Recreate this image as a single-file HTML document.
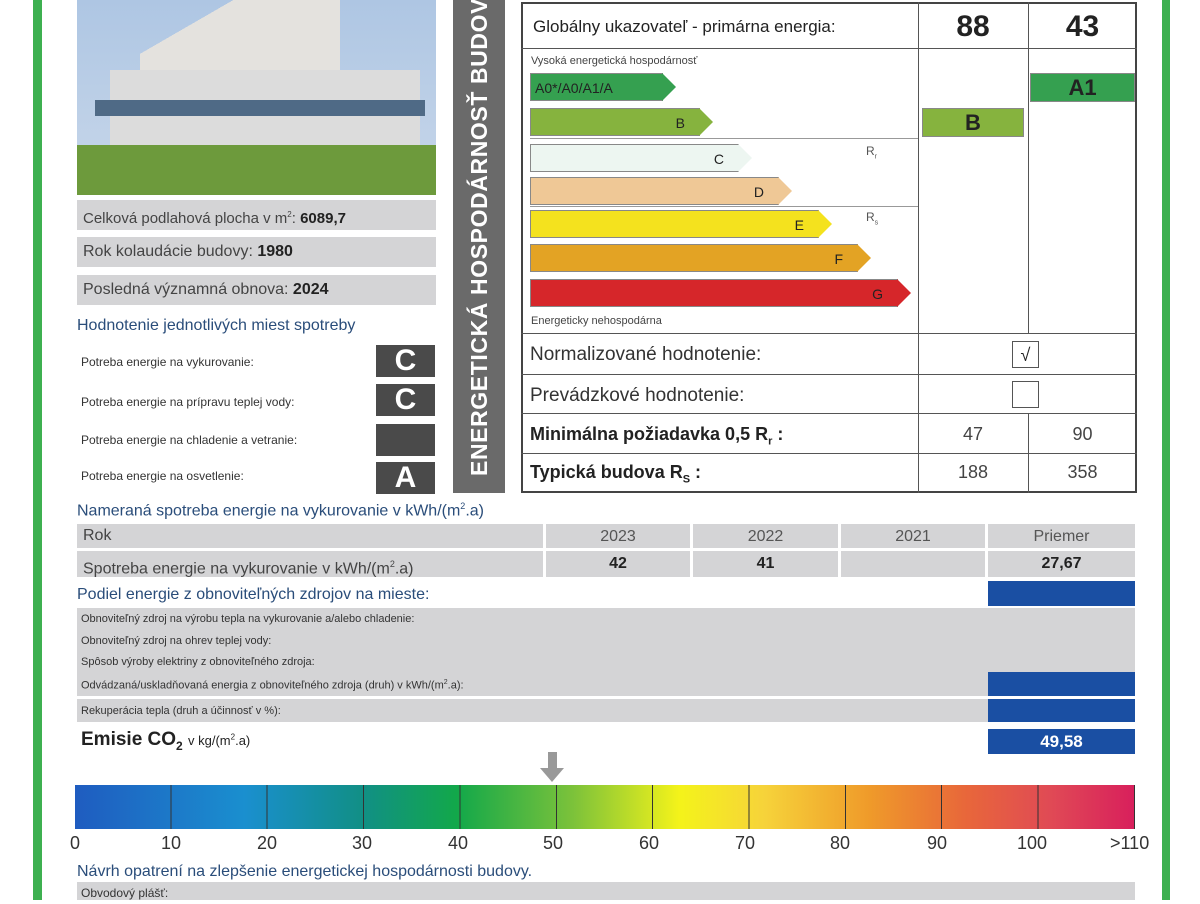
<!DOCTYPE html>
<html><head><meta charset="utf-8"><style>
*{margin:0;padding:0;box-sizing:border-box}
body{width:1200px;height:900px;background:#fff;position:relative;overflow:hidden;font-family:"Liberation Sans",sans-serif;color:#222}
.a{position:absolute}
.g{background:#d4d4d6}
.dk{background:#4a4a4a;color:#fff;font-weight:bold;font-size:30px;text-align:center;line-height:32px}
.bar{position:absolute;left:530px;height:28px;font-size:14px;line-height:28px;text-align:right;color:#222;border:1px solid #888}
.bar::after{content:"";position:absolute;right:-14px;top:-1px;border-left:14px solid var(--c);border-top:14px solid transparent;border-bottom:14px solid transparent}
.bl{background:#1a4fa3;color:#fff;font-weight:bold;text-align:center}
.hl{position:absolute;height:1px;background:#555}
.vl{position:absolute;width:1px;background:#555}
.sm{font-size:11px;color:#333}
.bh{color:#2a4d7a;font-size:15px}
</style></head><body>
<div class="a" style="left:33px;top:0;width:9px;height:900px;background:#3db050"></div>
<div class="a" style="left:1162px;top:0;width:8px;height:900px;background:#3db050"></div>

<!-- photo -->
<div class="a" style="left:77px;top:0;width:359px;height:195px;background:linear-gradient(#aec6e3 0,#c8d7ea 100%)"></div>
<div class="a" style="left:140px;top:0;width:200px;height:100px;background:linear-gradient(150deg,transparent 25%,#e4e2de 25%)"></div>
<div class="a" style="left:110px;top:70px;width:310px;height:75px;background:#dcdcdc"></div>
<div class="a" style="left:95px;top:100px;width:330px;height:16px;background:#4f6a86"></div>
<div class="a" style="left:77px;top:145px;width:359px;height:50px;background:#6d9a3c"></div>

<div class="a g" style="left:77px;top:200px;width:359px;height:30px;font-size:15px;line-height:30px;padding-left:6px;color:#444">Celková podlahová plocha v m<sup style="font-size:8px">2</sup>: <b style="color:#222">6089,7</b></div>
<div class="a g" style="left:77px;top:237px;width:359px;height:30px;font-size:16px;line-height:30px;padding-left:6px;color:#444">Rok kolaudácie budovy: <b style="color:#222">1980</b></div>
<div class="a g" style="left:77px;top:275px;width:359px;height:30px;font-size:16px;line-height:30px;padding-left:6px;color:#444">Posledná významná obnova: <b style="color:#222">2024</b></div>
<div class="a bh" style="left:77px;top:317px;font-size:16px">Hodnotenie jednotlivých miest spotreby</div>
<div class="a sm" style="left:81px;top:355px;font-size:12px">Potreba energie na vykurovanie:</div>
<div class="a sm" style="left:81px;top:395px;font-size:12px">Potreba energie na prípravu teplej vody:</div>
<div class="a sm" style="left:81px;top:433px;font-size:12px">Potreba energie na chladenie a vetranie:</div>
<div class="a sm" style="left:81px;top:469px;font-size:12px">Potreba energie na osvetlenie:</div>
<div class="a dk" style="left:376px;top:345px;width:59px;height:32px">C</div>
<div class="a dk" style="left:376px;top:384px;width:59px;height:32px">C</div>
<div class="a dk" style="left:376px;top:424px;width:59px;height:32px"></div>
<div class="a dk" style="left:376px;top:462px;width:59px;height:32px">A</div>

<div class="a" style="left:453px;top:0;width:52px;height:493px;background:#6a6a6a"></div>
<div class="a" style="left:466px;top:476px;transform:rotate(-90deg);transform-origin:0 0;white-space:nowrap;color:#fff;font-weight:bold;font-size:23px;letter-spacing:0.6px;line-height:26px">ENERGETICKÁ HOSPODÁRNOSŤ BUDOVY</div>

<!-- right table -->
<div class="a" style="left:521px;top:2px;width:616px;height:491px;border:2px solid #444"></div>
<div class="vl" style="left:918px;top:2px;height:491px"></div>
<div class="vl" style="left:1028px;top:2px;height:331px"></div>
<div class="vl" style="left:1028px;top:413px;height:80px"></div>
<div class="hl" style="left:521px;top:48px;width:616px"></div>
<div class="hl" style="left:521px;top:333px;width:616px"></div>
<div class="hl" style="left:521px;top:374px;width:616px"></div>
<div class="hl" style="left:521px;top:413px;width:616px"></div>
<div class="hl" style="left:521px;top:453px;width:616px"></div>
<div class="hl" style="left:530px;top:138px;width:388px;background:#999"></div>
<div class="hl" style="left:530px;top:206px;width:388px;background:#999"></div>
<div class="a" style="left:533px;top:17px;font-size:17px">Globálny ukazovateľ - primárna energia:</div>
<div class="a" style="left:918px;top:10px;width:110px;text-align:center;font-size:30px;font-weight:bold">88</div>
<div class="a" style="left:1028px;top:10px;width:109px;text-align:center;font-size:30px;font-weight:bold">43</div>
<div class="a" style="left:531px;top:55px;font-size:11px;color:#444">Vysoká energetická hospodárnosť</div>
<div class="bar" style="top:73px;width:133px;background:#35a050;--c:#35a050;text-align:left;padding-left:4px">A0*/A0/A1/A</div>
<div class="bar" style="top:108px;width:170px;background:#86b33e;--c:#86b33e;padding-right:14px">B</div>
<div class="bar" style="top:144px;width:209px;background:#edf6f1;--c:#edf6f1;padding-right:14px">C</div>
<div class="bar" style="top:177px;width:249px;background:#efc896;--c:#efc896;padding-right:14px">D</div>
<div class="bar" style="top:210px;width:289px;background:#f4e21e;--c:#f4e21e;padding-right:14px">E</div>
<div class="bar" style="top:244px;width:328px;background:#e3a324;--c:#e3a324;padding-right:14px">F</div>
<div class="bar" style="top:279px;width:368px;background:#d6262a;--c:#d6262a;padding-right:14px">G</div>
<div class="a" style="left:866px;top:144px;font-size:12px;color:#555">R<sub style="font-size:7px">r</sub></div>
<div class="a" style="left:866px;top:210px;font-size:12px;color:#555">R<sub style="font-size:7px">s</sub></div>
<div class="a" style="left:531px;top:315px;font-size:11px;color:#444">Energeticky nehospodárna</div>
<div class="a" style="left:922px;top:108px;width:102px;height:29px;background:#86b33e;border:1px solid #888;text-align:center;font-weight:bold;font-size:22px;line-height:28px">B</div>
<div class="a" style="left:1030px;top:73px;width:105px;height:29px;background:#35a050;border:1px solid #888;text-align:center;font-weight:bold;font-size:22px;line-height:28px">A1</div>
<div class="a" style="left:530px;top:344px;font-size:19px;color:#333">Normalizované hodnotenie:</div>
<div class="a" style="left:530px;top:385px;font-size:19px;color:#333">Prevádzkové hodnotenie:</div>
<div class="a" style="left:1012px;top:341px;width:27px;height:27px;border:1px solid #555;text-align:center;font-size:18px;line-height:26px">√</div>
<div class="a" style="left:1012px;top:381px;width:27px;height:27px;border:1px solid #555"></div>
<div class="a" style="left:530px;top:424px;font-size:18px;font-weight:bold">Minimálna požiadavka 0,5 R<sub style="font-size:11px">r</sub> :</div>
<div class="a" style="left:530px;top:462px;font-size:18px;font-weight:bold">Typická budova R<sub style="font-size:11px">S</sub> :</div>
<div class="a" style="left:918px;top:424px;width:110px;text-align:center;font-size:18px;color:#444">47</div>
<div class="a" style="left:1028px;top:424px;width:109px;text-align:center;font-size:18px;color:#444">90</div>
<div class="a" style="left:918px;top:462px;width:110px;text-align:center;font-size:18px;color:#444">188</div>
<div class="a" style="left:1028px;top:462px;width:109px;text-align:center;font-size:18px;color:#444">358</div>

<!-- lower -->
<div class="a bh" style="left:77px;top:501px;font-size:16px">Nameraná spotreba energie na vykurovanie v kWh/(m<sup style="font-size:9px">2</sup>.a)</div>
<div class="a g" style="left:77px;top:524px;width:466px;height:24px;font-size:16px;line-height:24px;padding-left:6px;color:#444">Rok</div>
<div class="a g" style="left:546px;top:524px;width:144px;height:24px;font-size:16px;line-height:26px;text-align:center;color:#555">2023</div>
<div class="a g" style="left:693px;top:524px;width:145px;height:24px;font-size:16px;line-height:26px;text-align:center;color:#555">2022</div>
<div class="a g" style="left:841px;top:524px;width:144px;height:24px;font-size:16px;line-height:26px;text-align:center;color:#555">2021</div>
<div class="a g" style="left:988px;top:524px;width:147px;height:24px;font-size:16px;line-height:26px;text-align:center;color:#555">Priemer</div>
<div class="a g" style="left:77px;top:551px;width:466px;height:26px;font-size:16px;line-height:26px;padding-left:6px;color:#444">Spotreba energie na vykurovanie v kWh/(m<sup style="font-size:9px">2</sup>.a)</div>
<div class="a g" style="left:546px;top:551px;width:144px;height:26px;font-size:16px;line-height:26px;text-align:center;font-weight:bold">42</div>
<div class="a g" style="left:693px;top:551px;width:145px;height:26px;font-size:16px;line-height:26px;text-align:center;font-weight:bold">41</div>
<div class="a g" style="left:841px;top:551px;width:144px;height:26px"></div>
<div class="a g" style="left:988px;top:551px;width:147px;height:26px;font-size:16px;line-height:26px;text-align:center;font-weight:bold">27,67</div>
<div class="a bh" style="left:77px;top:586px;font-size:16px">Podiel energie z obnoviteľných zdrojov na mieste:</div>
<div class="a bl" style="left:988px;top:581px;width:147px;height:25px"></div>
<div class="a g" style="left:77px;top:608px;width:1058px;height:88px"></div>
<div class="a sm" style="left:81px;top:613px">Obnoviteľný zdroj na výrobu tepla na vykurovanie a/alebo chladenie:</div>
<div class="a sm" style="left:81px;top:635px">Obnoviteľný zdroj na ohrev teplej vody:</div>
<div class="a sm" style="left:81px;top:656px">Spôsob výroby elektriny z obnoviteľného zdroja:</div>
<div class="a sm" style="left:81px;top:679px">Odvádzaná/uskladňovaná energia z obnoviteľného zdroja (druh) v kWh/(m<sup style="font-size:7px">2</sup>.a):</div>
<div class="a bl" style="left:988px;top:672px;width:147px;height:24px"></div>
<div class="a g" style="left:77px;top:699px;width:1058px;height:23px"></div>
<div class="a sm" style="left:81px;top:705px">Rekuperácia tepla (druh a účinnosť v %):</div>
<div class="a bl" style="left:988px;top:699px;width:147px;height:23px"></div>
<div class="a" style="left:81px;top:729px;font-size:19px;font-weight:bold">Emisie CO<sub style="font-size:12px">2</sub> <span style="font-weight:normal;font-size:13px">v kg/(m<sup style="font-size:8px">2</sup>.a)</span></div>
<div class="a bl" style="left:988px;top:729px;width:147px;height:25px;font-size:17px;line-height:25px">49,58</div>
<div class="a" style="left:548px;top:752px;width:9px;height:18px;background:#999"></div>
<div class="a" style="left:540px;top:768px;border-top:14px solid #999;border-left:12px solid transparent;border-right:12px solid transparent"></div>
<div class="a" style="left:75px;top:785px;width:1060px;height:44px;background:linear-gradient(90deg,#1f5cc0 0%,#1a8fcf 16%,#118f86 27%,#12a84a 36%,#7cc23a 47%,#f4f31a 57%,#f6d33a 65%,#ef9a2a 75%,#e8673a 84%,#e04a55 92%,#d81f5c 100%)"></div>
<div class="a" style="left:75px;top:785px;width:1060px;height:44px;background:repeating-linear-gradient(90deg,transparent 0,transparent 95.36px,#333 95.36px,#333 96.36px)"></div>
<div class="a" style="left:0;top:833px;width:1200px;height:22px;font-size:18px;color:#333">
<span class="a" style="left:70px">0</span><span class="a" style="left:161px">10</span><span class="a" style="left:257px">20</span><span class="a" style="left:352px">30</span><span class="a" style="left:448px">40</span><span class="a" style="left:543px">50</span><span class="a" style="left:639px">60</span><span class="a" style="left:735px">70</span><span class="a" style="left:830px">80</span><span class="a" style="left:927px">90</span><span class="a" style="left:1017px">100</span><span class="a" style="left:1110px">&gt;110</span></div>
<div class="a bh" style="left:77px;top:863px;font-size:16px">Návrh opatrení na zlepšenie energetickej hospodárnosti budovy.</div>
<div class="a g" style="left:77px;top:882px;width:1058px;height:18px;font-size:12px;padding-left:4px;line-height:22px;color:#333">Obvodový plášť:</div>
</body></html>
